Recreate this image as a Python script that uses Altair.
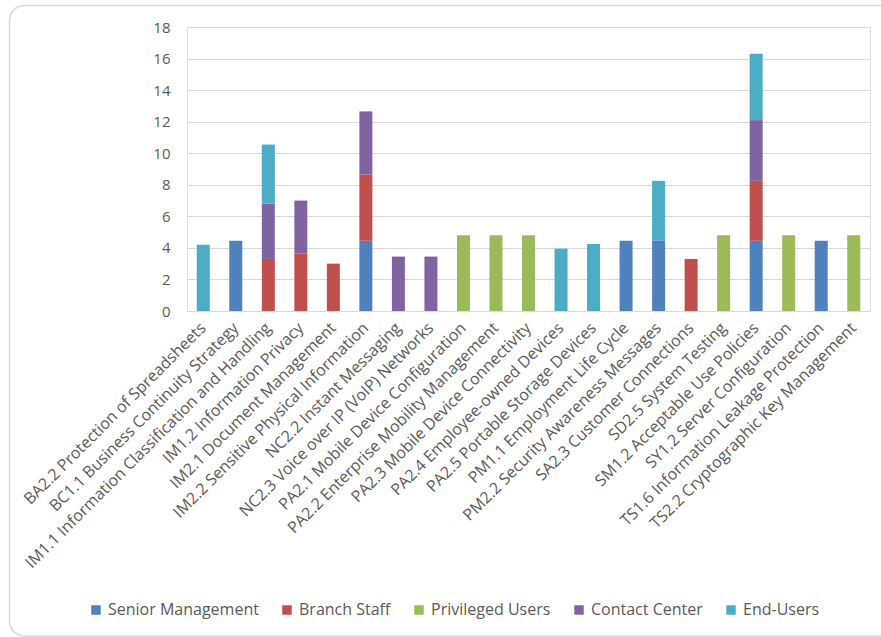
import altair as alt
import pandas as pd

categories = [
    "BA2.2 Protection of Spreadsheets",
    "BC1.1 Business Continuity Strategy",
    "IM1.1 Information Classification and Handling",
    "IM1.2 Information Privacy",
    "IM2.1 Document Management",
    "IM2.2 Sensitive Physical Information",
    "NC2.2 Instant Messaging",
    "NC2.3 Voice over IP (VoIP) Networks",
    "PA2.1 Mobile Device Configuration",
    "PA2.2 Enterprise Mobility Management",
    "PA2.3 Mobile Device Connectivity",
    "PA2.4 Employee-owned Devices",
    "PA2.5 Portable Storage Devices",
    "PM1.1 Employment Life Cycle",
    "PM2.2 Security Awareness Messages",
    "SA2.3 Customer Connections",
    "SD2.5 System Testing",
    "SM1.2 Acceptable Use Policies",
    "SY1.2 Server Configuration",
    "TS1.6 Information Leakage Protection",
    "TS2.2 Cryptographic Key Management",
]

series_names = ["Senior Management", "Branch Staff", "Privileged Users", "Contact Center", "End-Users"]
series_colors = ["#4f81bd", "#c0504d", "#9bbb59", "#8064a2", "#4bacc6"]

senior_management = [0, 4.45, 0, 0, 0, 4.45, 0, 0, 0, 0, 0, 0, 0, 4.45, 4.45, 0, 0, 4.45, 0, 4.45, 0]
branch_staff = [0, 0, 3.3, 3.65, 3.0, 4.2, 0, 0, 0, 0, 0, 0, 0, 0, 0, 3.3, 0, 3.8, 0, 0, 0]
privileged_users = [0, 0, 0, 0, 0, 0, 0, 0, 4.8, 4.8, 4.8, 0, 0, 0, 0, 0, 4.8, 0, 4.8, 0, 4.8]
contact_center = [0, 0, 3.5, 3.35, 0, 4.0, 3.45, 3.45, 0, 0, 0, 0, 0, 0, 0, 0, 0, 3.85, 0, 0, 0]
end_users = [4.2, 0, 3.75, 0, 0, 0, 0, 0, 0, 0, 0, 3.95, 4.25, 0, 3.8, 0, 0, 4.2, 0, 0, 0]

all_series = [senior_management, branch_staff, privileged_users, contact_center, end_users]

rows = []
for si, (name, vals) in enumerate(zip(series_names, all_series)):
    for cat, v in zip(categories, vals):
        if v > 0:
            rows.append({"category": cat, "series": name, "value": v, "order": si})
df = pd.DataFrame(rows)

W, H = 683, 284
PAD_L, PAD_T = 187, 27

bars = alt.Chart(df).mark_bar(size=13).encode(
    x=alt.X("category:N", sort=categories, title=None,
            axis=alt.Axis(labelAngle=-45, labelAlign="right", labelBaseline="middle",
                          labelFont="Open Sans", labelFontSize=16, labelColor="#595959",
                          labelPadding=14, ticks=False, domainColor="#d9d9d9", domainWidth=1,
                          labelLimit=400)),
    y=alt.Y("value:Q", title=None, scale=alt.Scale(domain=[0, 18], nice=False),
            axis=alt.Axis(values=list(range(0, 19, 2)), labelFont="Open Sans", labelFontSize=15,
                          labelColor="#595959", labelPadding=17, ticks=False, domain=False,
                          gridColor="#d9d9d9", gridWidth=1)),
    color=alt.Color("series:N", scale=alt.Scale(domain=series_names, range=series_colors),
                    legend=alt.Legend(orient="none", legendX=-99, legendY=575, direction="horizontal",
                                      title=None, symbolType="square", symbolSize=90,
                                      symbolStrokeWidth=0, labelFont="Open Sans",
                                      labelFontSize=16, labelColor="#595959", columnPadding=20,
                                      labelOffset=4)),
    order=alt.Order("order:Q", sort="ascending"),
)

frame = alt.Chart(pd.DataFrame({"a": [0]})).mark_rect(
    fill=None, stroke="#d9d9d9", strokeWidth=1.5, cornerRadius=15
).encode(
    x=alt.value(9.5 - PAD_L), x2=alt.value(895 - PAD_L),
    y=alt.value(5.5 - PAD_T), y2=alt.value(636 - PAD_T),
)

chart = alt.layer(frame, bars).properties(
    width=W, height=H,
    autosize=alt.AutoSizeParams(type="none"),
    padding={"left": PAD_L, "top": PAD_T, "right": 881 - PAD_L - W, "bottom": 637 - PAD_T - H},
).configure_view(stroke=None).configure(background="white")

chart.save("out.html", embed_options={"renderer": "svg", "actions": False})
